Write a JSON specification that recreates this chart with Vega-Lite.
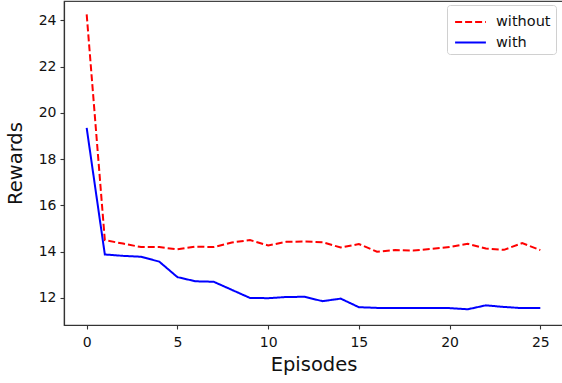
{
  "$schema": "https://vega.github.io/schema/vega-lite/v6.json",
  "width": 499,
  "height": 324,
  "autosize": "none",
  "padding": {"left": 64, "top": 1, "right": 0, "bottom": 58},
  "background": "white",
  "config": {
    "font": "DejaVu Sans",
    "view": {"stroke": "#444", "strokeWidth": 1.2},
    "axis": {"grid": false, "domainColor": "#333", "tickColor": "#333", "labelColor": "#111", "titleColor": "#111", "labelFontSize": 14, "titleFontSize": 19.5, "titleFontWeight": "normal", "tickSize": 4, "domainWidth": 1.2, "tickWidth": 1.1}
  },
  "data": {"values": [
    {"ep": 0, "s": "without", "r": 24.26}, {"ep": 1, "s": "without", "r": 14.5}, {"ep": 2, "s": "without", "r": 14.35}, {"ep": 3, "s": "without", "r": 14.2},
    {"ep": 4, "s": "without", "r": 14.2}, {"ep": 5, "s": "without", "r": 14.1}, {"ep": 6, "s": "without", "r": 14.22}, {"ep": 7, "s": "without", "r": 14.2},
    {"ep": 8, "s": "without", "r": 14.4}, {"ep": 9, "s": "without", "r": 14.5}, {"ep": 10, "s": "without", "r": 14.27}, {"ep": 11, "s": "without", "r": 14.43},
    {"ep": 12, "s": "without", "r": 14.44}, {"ep": 13, "s": "without", "r": 14.41}, {"ep": 14, "s": "without", "r": 14.18}, {"ep": 15, "s": "without", "r": 14.33},
    {"ep": 16, "s": "without", "r": 14.0}, {"ep": 17, "s": "without", "r": 14.07}, {"ep": 18, "s": "without", "r": 14.05}, {"ep": 19, "s": "without", "r": 14.12},
    {"ep": 20, "s": "without", "r": 14.2}, {"ep": 21, "s": "without", "r": 14.34}, {"ep": 22, "s": "without", "r": 14.14}, {"ep": 23, "s": "without", "r": 14.08},
    {"ep": 24, "s": "without", "r": 14.37}, {"ep": 25, "s": "without", "r": 14.07},
    {"ep": 0, "s": "with", "r": 19.35}, {"ep": 1, "s": "with", "r": 13.88}, {"ep": 2, "s": "with", "r": 13.82}, {"ep": 3, "s": "with", "r": 13.78},
    {"ep": 4, "s": "with", "r": 13.57}, {"ep": 5, "s": "with", "r": 12.9}, {"ep": 6, "s": "with", "r": 12.72}, {"ep": 7, "s": "with", "r": 12.7},
    {"ep": 8, "s": "with", "r": 12.35}, {"ep": 9, "s": "with", "r": 12.0}, {"ep": 10, "s": "with", "r": 11.99}, {"ep": 11, "s": "with", "r": 12.04},
    {"ep": 12, "s": "with", "r": 12.05}, {"ep": 13, "s": "with", "r": 11.86}, {"ep": 14, "s": "with", "r": 11.97}, {"ep": 15, "s": "with", "r": 11.6},
    {"ep": 16, "s": "with", "r": 11.57}, {"ep": 17, "s": "with", "r": 11.56}, {"ep": 18, "s": "with", "r": 11.56}, {"ep": 19, "s": "with", "r": 11.56},
    {"ep": 20, "s": "with", "r": 11.56}, {"ep": 21, "s": "with", "r": 11.51}, {"ep": 22, "s": "with", "r": 11.68}, {"ep": 23, "s": "with", "r": 11.61},
    {"ep": 24, "s": "with", "r": 11.56}, {"ep": 25, "s": "with", "r": 11.57}
  ]},
  "mark": {"type": "line", "strokeWidth": 2, "clip": true},
  "encoding": {
    "x": {"field": "ep", "type": "quantitative", "title": "Episodes", "scale": {"domain": [-1.25, 26.25], "nice": false, "zero": false},
      "axis": {"values": [0, 5, 10, 15, 20, 25], "labelPadding": 6, "titlePadding": 6}},
    "y": {"field": "r", "type": "quantitative", "title": "Rewards", "scale": {"domain": [10.83, 24.84], "nice": false, "zero": false},
      "axis": {"values": [12, 14, 16, 18, 20, 22, 24], "labelPadding": 4, "titlePadding": 13}},
    "color": {"field": "s", "type": "nominal", "sort": ["without", "with"],
      "scale": {"domain": ["without", "with"], "range": ["#ff0000", "#0000ff"]},
      "legend": {"title": null, "orient": "none", "legendX": 383, "legendY": 4, "labelFontSize": 14.5, "labelColor": "#111", "symbolType": "M-1.4,0H1.4", "symbolSize": 484, "symbolStrokeWidth": 2, "symbolFillColor": "transparent", "symbolOffset": 6.5, "padding": 5, "rowPadding": 1.5, "strokeColor": "#d0d0d0", "fillColor": "white", "cornerRadius": 3, "labelOffset": 13.5}},
    "strokeDash": {"field": "s", "type": "nominal", "sort": ["without", "with"],
      "scale": {"domain": ["without", "with"], "range": [[7, 3], [1, 0]]},
      "legend": {"title": null, "orient": "none", "legendX": 383, "legendY": 4, "labelFontSize": 14.5, "labelColor": "#111", "symbolType": "M-1.4,0H1.4", "symbolSize": 484, "symbolStrokeWidth": 2, "symbolFillColor": "transparent", "symbolOffset": 6.5, "padding": 5, "rowPadding": 1.5, "strokeColor": "#d0d0d0", "fillColor": "white", "cornerRadius": 3, "labelOffset": 13.5}}
  }
}
